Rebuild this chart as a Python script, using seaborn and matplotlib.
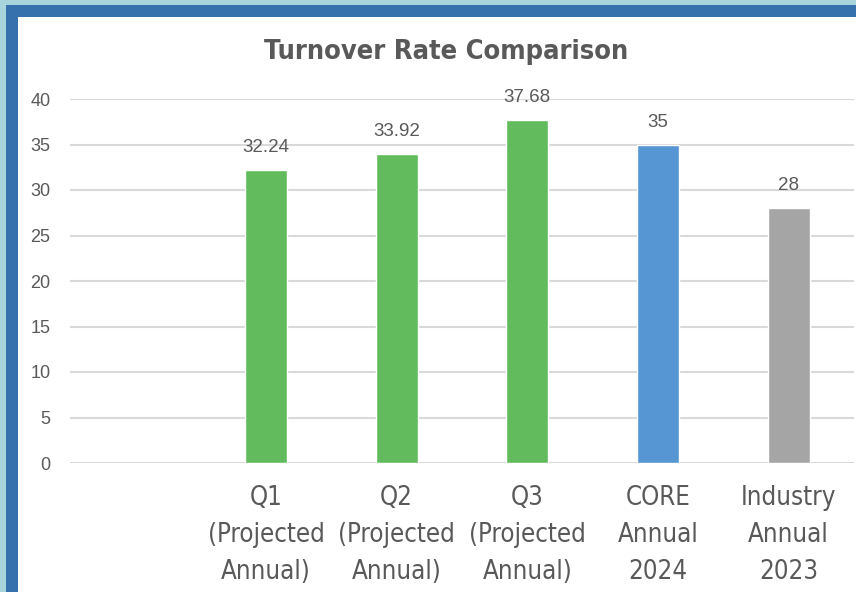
import numpy as np
import pandas as pd
import matplotlib
matplotlib.use("Agg")
import matplotlib.pyplot as plt
import seaborn as sns
from matplotlib.patches import Rectangle

categories = ["Q1\n(Projected\nAnnual)", "Q2\n(Projected\nAnnual)", "Q3\n(Projected\nAnnual)",
              "CORE\nAnnual\n2024", "Industry\nAnnual\n2023"]
values = [32.24, 33.92, 37.68, 35, 28]
labels = ["32.24", "33.92", "37.68", "35", "28"]
colors = ["#62bb5d", "#62bb5d", "#62bb5d", "#5596d3", "#a5a5a5"]
yticks = [0, 5, 10, 15, 20, 25, 30, 35, 40]
title = "Turnover Rate Comparison"

sns.set_theme(style="white")
plain = ["Liberation Sans", "DejaVu Sans"]
plt.rcParams["font.family"] = plain

W, H = 856, 592
fig = plt.figure(figsize=(W / 100, H / 100), dpi=100)
fig.patch.set_facecolor("#a8d4db")
# blue frame and white card
fig.add_artist(Rectangle((6 / W, 0), 1, 1 - 5 / H, transform=fig.transFigure,
                         facecolor="#3670ad", edgecolor="none", zorder=0))
fig.add_artist(Rectangle((18 / W, 0), 1, 1 - 17 / H, transform=fig.transFigure,
                         facecolor="white", edgecolor="none", zorder=0))

left, right = 70 / W, 854 / W
bottom, top = (H - 463) / H, (H - 99) / H
ax = fig.add_axes([left, bottom, right - left, top - bottom])
ax.set_facecolor("none")

df = pd.DataFrame({"cat": categories, "val": values})
sns.barplot(data=df, x="cat", y="val", hue="cat", palette=colors, order=categories,
            width=0.32, legend=False, ax=ax, saturation=1, zorder=3)

ax.set_xlim(-1.5, len(categories) - 0.5)
ax.set_ylim(0, 40)
ax.set_yticks(yticks)
ax.set_yticklabels([str(t) for t in yticks], fontsize=13, color="#595959", family=plain)
ax.yaxis.grid(True, color="#d9d9d9", linewidth=1.5, zorder=0)
ax.set_axisbelow(True)
for s in ax.spines.values():
    s.set_visible(False)
ax.tick_params(axis="y", length=0, pad=14)
ax.tick_params(axis="x", length=0, pad=16)
ax.set_xticks(range(len(categories)))
ax.set_xticklabels(categories, fontsize=18.5, color="#595959", family="DejaVu Sans",
                   fontstretch="condensed", linespacing=1.55)
ax.set_xlabel("")
ax.set_ylabel("")

for i, (v, lab) in enumerate(zip(values, labels)):
    ax.annotate(lab, (i, v), xytext=(0, 10), textcoords="offset points",
                ha="center", va="bottom", fontsize=13.5, color="#595959", family=plain)

fig.text(446 / W, 1 - 52 / H, title, ha="center", va="center", fontsize=19.5,
         fontweight="bold", color="#595959", family="DejaVu Sans", fontstretch="condensed")

fig.savefig("out.png", dpi=100, facecolor=fig.get_facecolor())
